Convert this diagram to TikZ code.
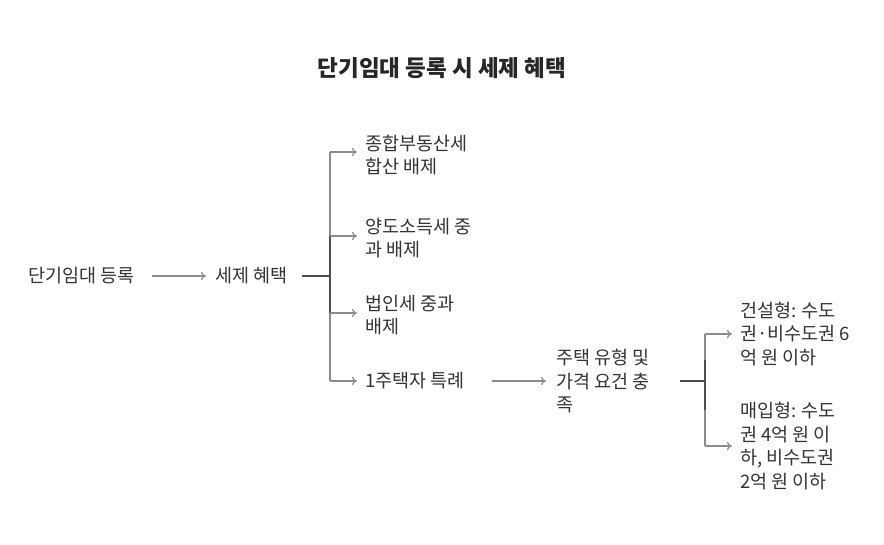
\documentclass[tikz,border=0pt]{standalone}
\usepackage{fontspec}
\setmainfont{Noto Sans CJK KR}
\usetikzlibrary{arrows.meta}
\begin{document}
\begin{tikzpicture}[x=1pt,y=-1pt,
 txt/.style={anchor=west,inner sep=0pt,align=left,font=\fontsize{18.5}{23.5}\selectfont,text=black!80},
 arr/.style={draw=black!45,line width=1.2pt,-{To[length=5pt,width=8pt]}},
 ln/.style={draw=black!45,line width=1.2pt},
 dk/.style={draw=black!70,line width=1.5pt}]
\useasboundingbox (0,0) rectangle (884,544);
\node[font=\bfseries\fontsize{22.5}{26}\selectfont,text=black!85] (t) at (442,68) {단기임대 등록 시 세제 혜택};
\node[txt] (a) at (28,276) {단기임대 등록};
\node[txt] (b) at (215,276) {세제 혜택};
\node[txt] (c1) at (365,155) {종합부동산세\\합산 배제};
\node[txt] (c2) at (365,238) {양도소득세 중\\과 배제};
\node[txt] (c3) at (365,315) {법인세 중과\\배제};
\node[txt] (c4) at (365,381) {1주택자 특례};
\node[txt] (d) at (556,381) {주택 유형 및\\가격 요건 충\\족};
\node[txt] (e1) at (740,334) {건설형: 수도\\권·비수도권 6\\억 원 이하};
\node[txt] (e2) at (740,446) {매입형: 수도\\권 4억 원 이\\하, 비수도권\\2억 원 이하};
\coordinate (a1) at (152,276);
\coordinate (b1) at (206,276);
\draw[arr] (a1) -- (b1);
\coordinate (j1) at (330,276);
\draw[dk] (302,276) -- (j1);
\draw[ln] (330,152) -- (330,381);
\draw[dk] (330,236) -- (330,313);
\draw[arr] (330,152) -- (357,152);
\draw[arr] (330,236) -- (357,236);
\draw[arr] (330,313) -- (357,313);
\draw[arr] (330,381) -- (357,381);
\draw[arr] (492,381) -- (546,381);
\coordinate (j2) at (705,381);
\draw[dk] (680,381) -- (j2);
\draw[ln] (705,334) -- (705,446);
\draw[dk] (705,360) -- (705,410);
\draw[arr] (705,334) -- (732,334);
\draw[arr] (705,446) -- (732,446);
\end{tikzpicture}
\end{document}
